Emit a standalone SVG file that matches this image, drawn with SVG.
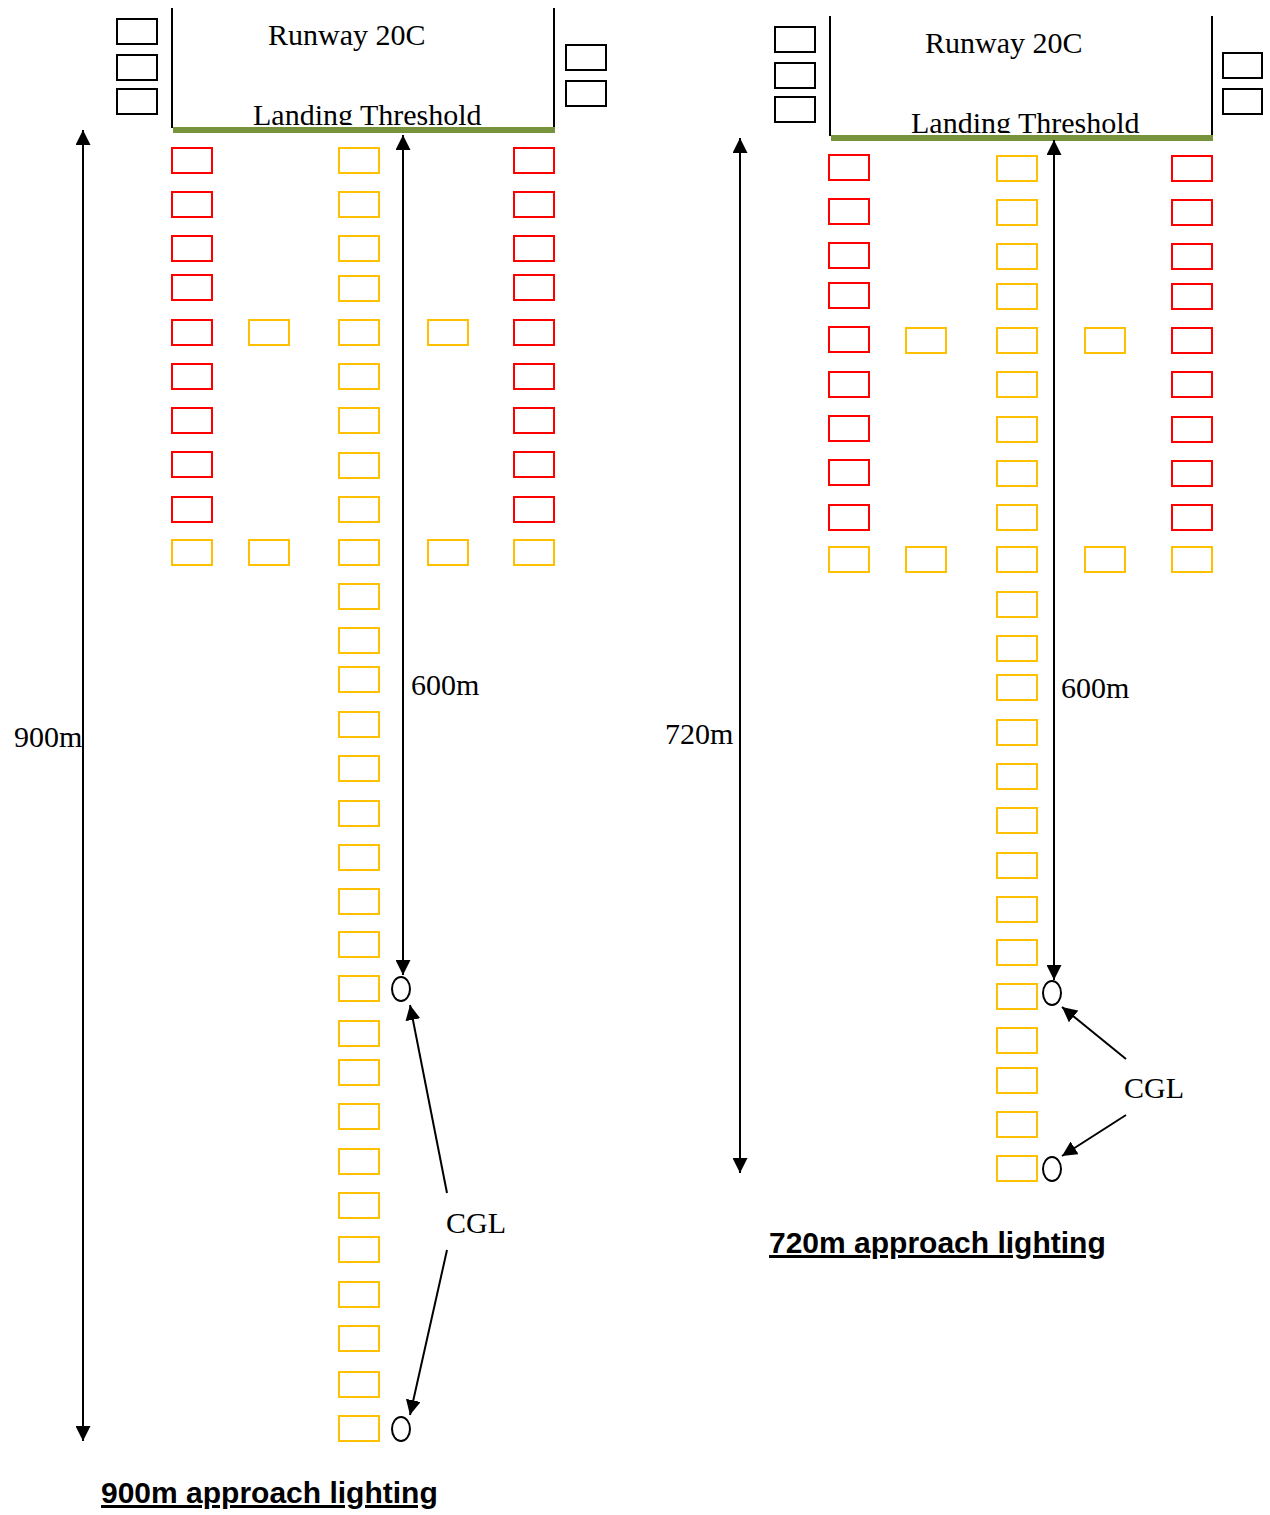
<svg xmlns="http://www.w3.org/2000/svg" width="1270" height="1515" viewBox="0 0 1270 1515">
<style>
.blk{fill:none;stroke:#000;stroke-width:2}
.red{fill:none;stroke:#FF0000;stroke-width:2}
.yel{fill:none;stroke:#FFC000;stroke-width:2}
.edge{fill:none;stroke:#000;stroke-width:2}
.rw{stroke:#000;stroke-width:2}
.thr{stroke:#77933C;stroke-width:6}
.t{font-family:"Liberation Serif","Times New Roman",serif;font-size:30px;fill:#000}
.title{font-family:"Liberation Sans",Arial,sans-serif;font-size:30px;font-weight:bold;fill:#000;text-decoration:underline}
.cgl{fill:none;stroke:#000;stroke-width:2}
</style>
<defs>
<marker id="ah" viewBox="0 0 10 10" refX="10" refY="5" markerUnits="userSpaceOnUse" markerWidth="15" markerHeight="15" orient="auto-start-reverse" preserveAspectRatio="none"><path d="M0,0 L10,5 L0,10 z" fill="#000"/></marker>
<clipPath id="clipL"><rect x="150" y="0" width="420" height="125"/></clipPath>
<clipPath id="clipR"><rect x="810" y="0" width="420" height="133"/></clipPath>
</defs>
<rect width="1270" height="1515" fill="#fff"/>

<!-- LEFT DIAGRAM: 900m -->
<g id="runway-left">
<rect class="blk" x="117" y="19" width="40" height="25"/>
<rect class="blk" x="117" y="55" width="40" height="25"/>
<rect class="blk" x="117" y="89" width="40" height="25"/>
<rect class="blk" x="566" y="45" width="40" height="25"/>
<rect class="blk" x="566" y="81" width="40" height="25"/>
<line class="rw" x1="172" y1="8" x2="172" y2="128"/>
<line class="rw" x1="554" y1="8" x2="554" y2="128"/>
<text class="t" x="268" y="45">Runway 20C</text>
<text class="t" x="253" y="125" clip-path="url(#clipL)">Landing Threshold</text>
<line class="thr" x1="173" y1="130" x2="555" y2="130"/>
</g>
<g id="lights-left-side">
<rect class="red" x="172" y="148" width="40" height="25"/>
<rect class="red" x="172" y="192" width="40" height="25"/>
<rect class="red" x="172" y="236" width="40" height="25"/>
<rect class="red" x="172" y="275" width="40" height="25"/>
<rect class="red" x="172" y="320" width="40" height="25"/>
<rect class="red" x="172" y="364" width="40" height="25"/>
<rect class="red" x="172" y="408" width="40" height="25"/>
<rect class="red" x="172" y="452" width="40" height="25"/>
<rect class="red" x="172" y="497" width="40" height="25"/>
<rect class="yel" x="172" y="540" width="40" height="25"/>
<rect class="red" x="514" y="148" width="40" height="25"/>
<rect class="red" x="514" y="192" width="40" height="25"/>
<rect class="red" x="514" y="236" width="40" height="25"/>
<rect class="red" x="514" y="275" width="40" height="25"/>
<rect class="red" x="514" y="320" width="40" height="25"/>
<rect class="red" x="514" y="364" width="40" height="25"/>
<rect class="red" x="514" y="408" width="40" height="25"/>
<rect class="red" x="514" y="452" width="40" height="25"/>
<rect class="red" x="514" y="497" width="40" height="25"/>
<rect class="yel" x="514" y="540" width="40" height="25"/>
<rect class="yel" x="249" y="320" width="40" height="25"/>
<rect class="yel" x="249" y="540" width="40" height="25"/>
<rect class="yel" x="428" y="320" width="40" height="25"/>
<rect class="yel" x="428" y="540" width="40" height="25"/>
</g>
<g id="lights-left-centre">
<rect class="yel" x="339" y="148" width="40" height="25"/>
<rect class="yel" x="339" y="192" width="40" height="25"/>
<rect class="yel" x="339" y="236" width="40" height="25"/>
<rect class="yel" x="339" y="276" width="40" height="25"/>
<rect class="yel" x="339" y="320" width="40" height="25"/>
<rect class="yel" x="339" y="364" width="40" height="25"/>
<rect class="yel" x="339" y="408" width="40" height="25"/>
<rect class="yel" x="339" y="453" width="40" height="25"/>
<rect class="yel" x="339" y="497" width="40" height="25"/>
<rect class="yel" x="339" y="540" width="40" height="25"/>
<rect class="yel" x="339" y="584" width="40" height="25"/>
<rect class="yel" x="339" y="628" width="40" height="25"/>
<rect class="yel" x="339" y="667" width="40" height="25"/>
<rect class="yel" x="339" y="712" width="40" height="25"/>
<rect class="yel" x="339" y="756" width="40" height="25"/>
<rect class="yel" x="339" y="801" width="40" height="25"/>
<rect class="yel" x="339" y="845" width="40" height="25"/>
<rect class="yel" x="339" y="889" width="40" height="25"/>
<rect class="yel" x="339" y="932" width="40" height="25"/>
<rect class="yel" x="339" y="976" width="40" height="25"/>
<rect class="yel" x="339" y="1021" width="40" height="25"/>
<rect class="yel" x="339" y="1060" width="40" height="25"/>
<rect class="yel" x="339" y="1104" width="40" height="25"/>
<rect class="yel" x="339" y="1149" width="40" height="25"/>
<rect class="yel" x="339" y="1193" width="40" height="25"/>
<rect class="yel" x="339" y="1237" width="40" height="25"/>
<rect class="yel" x="339" y="1282" width="40" height="25"/>
<rect class="yel" x="339" y="1326" width="40" height="25"/>
<rect class="yel" x="339" y="1372" width="40" height="25"/>
<rect class="yel" x="339" y="1416" width="40" height="25"/>
</g>
<g id="cgl-left-1"><ellipse class="blk" cx="401" cy="989" rx="9" ry="12"/></g>
<g id="cgl-left-2"><ellipse class="blk" cx="401" cy="1429" rx="9" ry="12"/></g>
<g id="labels-left">
<text class="t" x="411" y="695">600m</text>
<text class="t" x="14" y="747">900m</text>
<text class="t" x="446" y="1233">CGL</text>
<text class="title" x="101" y="1503">900m approach lighting</text>
</g>

<!-- RIGHT DIAGRAM: 720m -->
<g id="runway-right">
<rect class="blk" x="775" y="27" width="40" height="25"/>
<rect class="blk" x="775" y="63" width="40" height="25"/>
<rect class="blk" x="775" y="97" width="40" height="25"/>
<rect class="blk" x="1223" y="53" width="39" height="25"/>
<rect class="blk" x="1223" y="89" width="39" height="25"/>
<line class="rw" x1="830" y1="16" x2="830" y2="136"/>
<line class="rw" x1="1212" y1="16" x2="1212" y2="136"/>
<text class="t" x="925" y="53">Runway 20C</text>
<text class="t" x="911" y="133" clip-path="url(#clipR)">Landing Threshold</text>
<line class="thr" x1="831" y1="138" x2="1213" y2="138"/>
</g>
<g id="lights-right-side">
<rect class="red" x="829" y="155" width="40" height="25"/>
<rect class="red" x="829" y="199" width="40" height="25"/>
<rect class="red" x="829" y="243" width="40" height="25"/>
<rect class="red" x="829" y="283" width="40" height="25"/>
<rect class="red" x="829" y="327" width="40" height="25"/>
<rect class="red" x="829" y="372" width="40" height="25"/>
<rect class="red" x="829" y="416" width="40" height="25"/>
<rect class="red" x="829" y="460" width="40" height="25"/>
<rect class="red" x="829" y="505" width="40" height="25"/>
<rect class="yel" x="829" y="547" width="40" height="25"/>
<rect class="red" x="1172" y="156" width="40" height="25"/>
<rect class="red" x="1172" y="200" width="40" height="25"/>
<rect class="red" x="1172" y="244" width="40" height="25"/>
<rect class="red" x="1172" y="284" width="40" height="25"/>
<rect class="red" x="1172" y="328" width="40" height="25"/>
<rect class="red" x="1172" y="372" width="40" height="25"/>
<rect class="red" x="1172" y="417" width="40" height="25"/>
<rect class="red" x="1172" y="461" width="40" height="25"/>
<rect class="red" x="1172" y="505" width="40" height="25"/>
<rect class="yel" x="1172" y="547" width="40" height="25"/>
<rect class="yel" x="906" y="328" width="40" height="25"/>
<rect class="yel" x="906" y="547" width="40" height="25"/>
<rect class="yel" x="1085" y="328" width="40" height="25"/>
<rect class="yel" x="1085" y="547" width="40" height="25"/>
</g>
<g id="lights-right-centre">
<rect class="yel" x="997" y="156" width="40" height="25"/>
<rect class="yel" x="997" y="200" width="40" height="25"/>
<rect class="yel" x="997" y="244" width="40" height="25"/>
<rect class="yel" x="997" y="284" width="40" height="25"/>
<rect class="yel" x="997" y="328" width="40" height="25"/>
<rect class="yel" x="997" y="372" width="40" height="25"/>
<rect class="yel" x="997" y="417" width="40" height="25"/>
<rect class="yel" x="997" y="461" width="40" height="25"/>
<rect class="yel" x="997" y="505" width="40" height="25"/>
<rect class="yel" x="997" y="547" width="40" height="25"/>
<rect class="yel" x="997" y="592" width="40" height="25"/>
<rect class="yel" x="997" y="636" width="40" height="25"/>
<rect class="yel" x="997" y="675" width="40" height="25"/>
<rect class="yel" x="997" y="720" width="40" height="25"/>
<rect class="yel" x="997" y="764" width="40" height="25"/>
<rect class="yel" x="997" y="808" width="40" height="25"/>
<rect class="yel" x="997" y="853" width="40" height="25"/>
<rect class="yel" x="997" y="897" width="40" height="25"/>
<rect class="yel" x="997" y="940" width="40" height="25"/>
<rect class="yel" x="997" y="984" width="40" height="25"/>
<rect class="yel" x="997" y="1028" width="40" height="25"/>
<rect class="yel" x="997" y="1068" width="40" height="25"/>
<rect class="yel" x="997" y="1112" width="40" height="25"/>
<rect class="yel" x="997" y="1156" width="40" height="25"/>
</g>
<g id="cgl-right-1"><ellipse class="blk" cx="1052" cy="993" rx="9" ry="12"/></g>
<g id="cgl-right-2"><ellipse class="blk" cx="1052" cy="1169" rx="9" ry="12"/></g>
<g id="labels-right">
<text class="t" x="1061" y="698">600m</text>
<text class="t" x="665" y="744">720m</text>
<text class="t" x="1124" y="1098">CGL</text>
<text class="title" x="769" y="1253">720m approach lighting</text>
</g>

<g id="connectors">
<line class="edge" x1="403" y1="135" x2="403" y2="975" marker-start="url(#ah)" marker-end="url(#ah)"/>
<line class="edge" x1="83" y1="130" x2="83" y2="1441" marker-start="url(#ah)" marker-end="url(#ah)"/>
<line class="cgl" x1="447" y1="1193" x2="410" y2="1005" marker-end="url(#ah)"/>
<line class="cgl" x1="447" y1="1250" x2="410" y2="1415" marker-end="url(#ah)"/>
<line class="edge" x1="1054" y1="140" x2="1054" y2="980" marker-start="url(#ah)" marker-end="url(#ah)"/>
<line class="edge" x1="740" y1="138" x2="740" y2="1173" marker-start="url(#ah)" marker-end="url(#ah)"/>
<line class="cgl" x1="1126" y1="1059" x2="1062" y2="1007" marker-end="url(#ah)"/>
<line class="cgl" x1="1126" y1="1115" x2="1062" y2="1156" marker-end="url(#ah)"/>
</g>
</svg>
